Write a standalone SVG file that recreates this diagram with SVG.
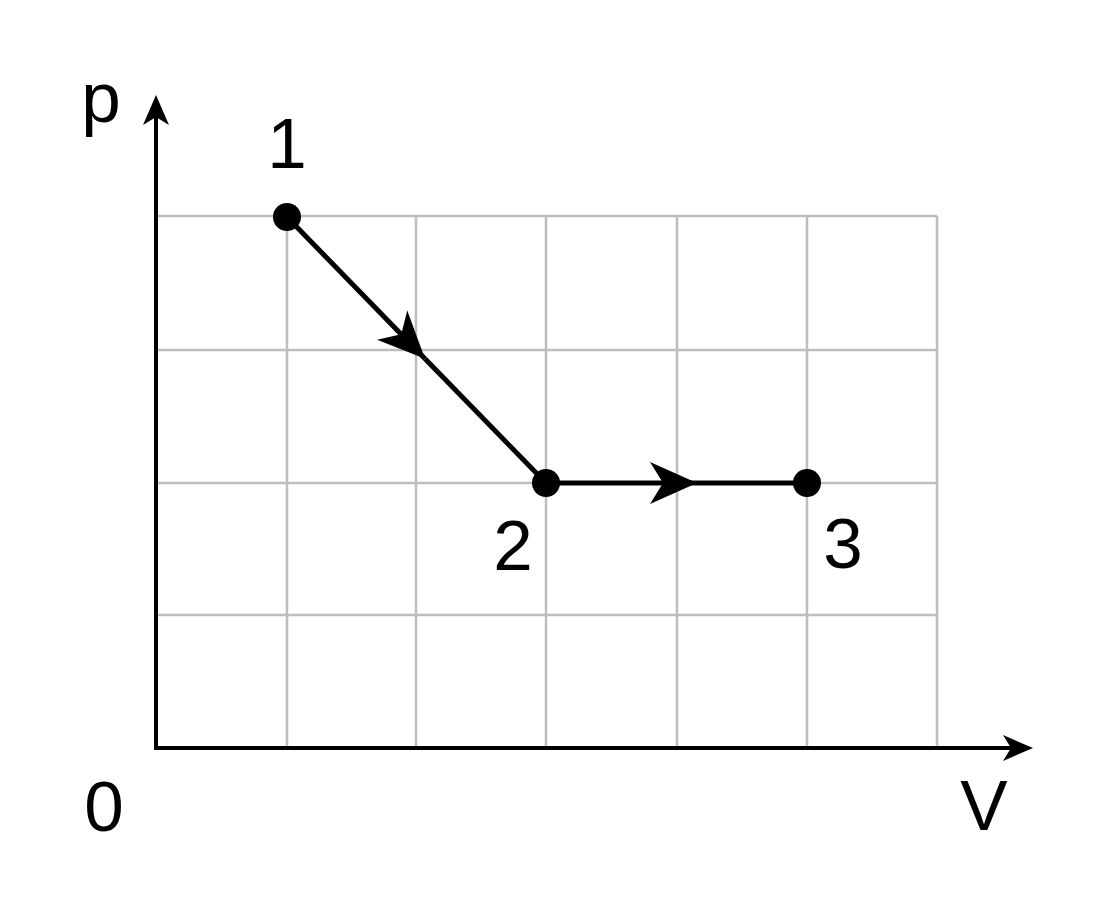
<svg xmlns="http://www.w3.org/2000/svg" width="1110" height="913" viewBox="0 0 1110 913">
<style>
.grid{stroke:#bdbdbd;stroke-width:2.5;fill:none}
.axis{stroke:#000;stroke-width:4;fill:none}
.proc{stroke:#000;stroke-width:5;fill:none}
.pt{fill:#000}
.lbl{font-family:"Liberation Sans",Arial,sans-serif;font-size:71px;fill:#000;text-anchor:middle}
</style>
<defs>
<marker id="axhead" markerUnits="userSpaceOnUse" viewBox="-10 -15 34 30" markerWidth="34" markerHeight="30" refX="0" refY="0" orient="auto">
<path d="M22,0 L-8,-13 L0,0 L-8,13 Z" fill="#000"/>
</marker>
<marker id="phead" markerUnits="userSpaceOnUse" viewBox="-50 -25 55 50" markerWidth="55" markerHeight="50" refX="0" refY="0" orient="auto">
<path d="M0,0 L-47,-21 L-34,0 L-47,21 Z" fill="#000"/>
</marker>
</defs>
<rect width="1110" height="913" fill="#fff"/>
<g id="grid" class="grid">
<line x1="287" y1="216" x2="287" y2="748"/>
<line x1="416" y1="216" x2="416" y2="748"/>
<line x1="546" y1="216" x2="546" y2="748"/>
<line x1="677" y1="216" x2="677" y2="748"/>
<line x1="807" y1="216" x2="807" y2="748"/>
<line x1="937" y1="216" x2="937" y2="748"/>
<line x1="156" y1="216" x2="937" y2="216"/>
<line x1="156" y1="350" x2="937" y2="350"/>
<line x1="156" y1="483" x2="937" y2="483"/>
<line x1="156" y1="615" x2="937" y2="615"/>
</g>
<g id="axes">
<line class="axis" x1="156" y1="750" x2="156" y2="117" marker-end="url(#axhead)"/>
<line class="axis" x1="154" y1="748" x2="1011" y2="748" marker-end="url(#axhead)"/>
<text class="lbl" x="101" y="122">p</text>
<text class="lbl" x="104" y="831">0</text>
<text class="lbl" x="984" y="830">V</text>
</g>
<g id="connectors">
<line class="proc" x1="287" y1="217" x2="425" y2="358.7" marker-end="url(#phead)"/>
<line class="proc" x1="425" y1="358.7" x2="546" y2="483"/>
<line class="proc" x1="546" y1="483" x2="697" y2="483" marker-end="url(#phead)"/>
<line class="proc" x1="697" y1="483" x2="807" y2="483"/>
</g>
<g id="node1">
<circle class="pt" cx="287" cy="217" r="14"/>
<text class="lbl" x="287" y="168">1</text>
</g>
<g id="node2">
<circle class="pt" cx="546" cy="483" r="14"/>
<text class="lbl" x="513" y="570">2</text>
</g>
<g id="node3">
<circle class="pt" cx="807" cy="483" r="14"/>
<text class="lbl" x="843" y="568">3</text>
</g>
</svg>
